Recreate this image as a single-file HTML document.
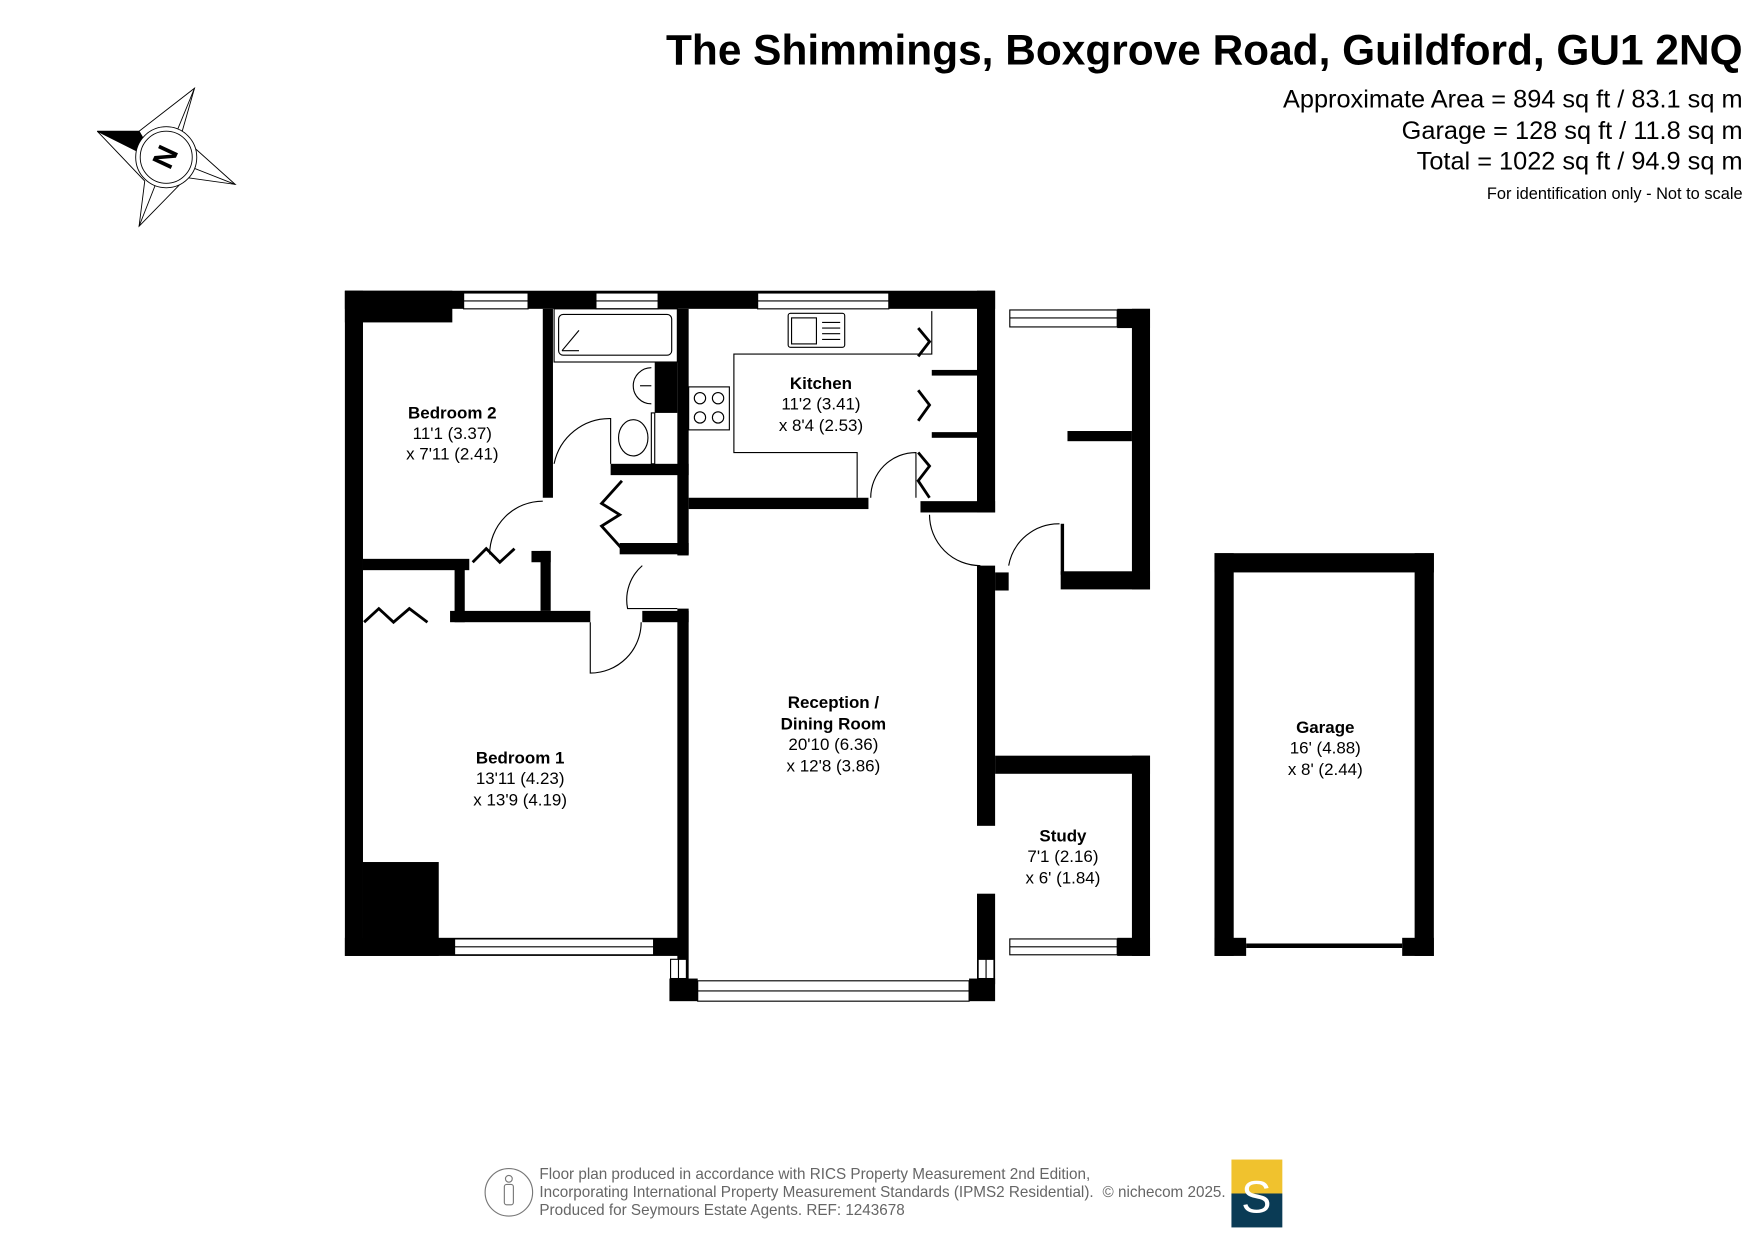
<!DOCTYPE html>
<html><head><meta charset="utf-8"><style>
html,body{margin:0;padding:0;background:#fff;}
svg{display:block;}
text{font-family:"Liberation Sans",Arial,sans-serif;}
</style></head><body>
<svg width="1755" height="1241" viewBox="0 0 1552 1097" preserveAspectRatio="none" xmlns="http://www.w3.org/2000/svg">
<rect width="1552" height="1097" fill="#fff"/>
<!-- header -->
<text x="1541" y="57" text-anchor="end" font-size="37.5" font-weight="bold">The Shimmings, Boxgrove Road, Guildford, GU1 2NQ</text>
<text x="1541" y="95" text-anchor="end" font-size="22.4">Approximate Area = 894 sq ft / 83.1 sq m</text>
<text x="1541" y="123" text-anchor="end" font-size="22.4">Garage = 128 sq ft / 11.8 sq m</text>
<text x="1541" y="150" text-anchor="end" font-size="22.4">Total = 1022 sq ft / 94.9 sq m</text>
<text x="1541" y="176" text-anchor="end" font-size="14.5">For identification only - Not to scale</text>
<!-- compass -->
<g stroke="#000" stroke-width="0.8" fill="none">
<polygon points="86,116 123,116 138,142" fill="#000"/>
<polyline points="123,116 172,78 160,120 208,163 165,157 123,200 128,160 86,116"/>
<line x1="147" y1="139" x2="172" y2="78"/><line x1="147" y1="139" x2="208" y2="163"/><line x1="147" y1="139" x2="123" y2="200"/>
<circle cx="147" cy="139" r="27" fill="#fff"/><circle cx="147" cy="139" r="23"/>
</g>
<text x="147" y="147" font-size="26" font-weight="bold" text-anchor="middle" transform="rotate(-65 147 139)">N</text>

<g fill="#000">
<rect x="305" y="257" width="575" height="16"/>
<rect x="305" y="257" width="95" height="28"/>
<rect x="305" y="257" width="16" height="588"/>
<rect x="305" y="829" width="303" height="16"/>
<rect x="321" y="762" width="67" height="83"/>
<rect x="480" y="273" width="9" height="167"/>
<rect x="321" y="494" width="94" height="10"/>
<rect x="470" y="487" width="17" height="10"/>
<rect x="402" y="500" width="9" height="50"/>
<rect x="398" y="540" width="124" height="10"/>
<rect x="478" y="487" width="9" height="53"/>
<rect x="568" y="540" width="41" height="10"/>
<rect x="599" y="273" width="10" height="218"/>
<rect x="579" y="320" width="20" height="45"/>
<rect x="540" y="410" width="69" height="10"/>
<rect x="548" y="480" width="61" height="10"/>
<rect x="609" y="440" width="159" height="10"/>
<rect x="814" y="443" width="66" height="10"/>
<rect x="824" y="327" width="42" height="5"/><rect x="824" y="382" width="42" height="5"/>
<rect x="599" y="538" width="10" height="332"/>
<rect x="864" y="257" width="16" height="196"/>
<rect x="864" y="500" width="16" height="230"/>
<rect x="864" y="790" width="16" height="80"/>
<rect x="880" y="506" width="12" height="16"/>
<rect x="592" y="865" width="25" height="20"/>
<rect x="857" y="865" width="23" height="20"/>
<rect x="1001" y="273" width="16" height="248"/>
<rect x="988" y="273" width="29" height="17"/>
<rect x="938" y="505" width="79" height="16"/>
<rect x="938" y="463" width="3" height="45"/>
<rect x="944" y="381" width="57" height="9"/>
<rect x="880" y="668" width="137" height="16"/>
<rect x="1001" y="668" width="16" height="177"/>
<rect x="988" y="829" width="29" height="16"/>
<rect x="1074" y="489" width="194" height="17"/>
<rect x="1074" y="489" width="17" height="356"/>
<rect x="1251" y="489" width="17" height="356"/>
<rect x="1074" y="829" width="28" height="16"/>
<rect x="1240" y="829" width="28" height="16"/>
<rect x="1102" y="834" width="138" height="4"/>
</g>
<g fill="#fff" stroke="#000" stroke-width="1">
<rect x="410" y="259" width="57" height="14"/><line x1="410" y1="266" x2="467" y2="266"/>
<rect x="527" y="259" width="55" height="14"/><line x1="527" y1="266" x2="582" y2="266"/>
<rect x="670" y="259" width="116" height="14"/><line x1="670" y1="266" x2="786" y2="266"/>
<rect x="402" y="830" width="176" height="14"/><line x1="402" y1="837" x2="578" y2="837"/>
<rect x="617" y="867" width="240" height="18"/><line x1="617" y1="876" x2="857" y2="876"/>
<rect x="593" y="848" width="14" height="17"/><line x1="600" y1="848" x2="600" y2="865"/>
<rect x="865" y="848" width="14" height="17"/><line x1="872" y1="848" x2="872" y2="865"/>
<rect x="893" y="274" width="95" height="15"/><line x1="893" y1="281" x2="988" y2="281"/>
<rect x="893" y="830" width="95" height="14"/><line x1="893" y1="837" x2="988" y2="837"/>
</g>
<g fill="none" stroke="#000" stroke-width="1">
<rect x="490" y="273" width="109" height="47"/>
<rect x="494" y="278" width="100" height="36" rx="4"/>
<line x1="497" y1="310" x2="512" y2="292"/><line x1="497" y1="310" x2="512" y2="310"/>
<path d="M576 325 a16 16 0 0 0 0 32"/><line x1="566" y1="341" x2="576" y2="341"/>
<ellipse cx="560" cy="387" rx="13" ry="16"/><rect x="576" y="365" width="3" height="45"/>
<rect x="697" y="277" width="50" height="30" rx="2"/><rect x="700" y="281" width="22" height="23"/>
<line x1="727" y1="285" x2="743" y2="285"/><line x1="727" y1="290" x2="743" y2="290"/><line x1="727" y1="295" x2="743" y2="295"/><line x1="727" y1="300" x2="743" y2="300"/>
<rect x="609" y="342" width="36" height="38"/>
<circle cx="619" cy="352" r="5"/><circle cx="635" cy="352" r="5"/><circle cx="619" cy="369" r="5"/><circle cx="635" cy="369" r="5"/>
<polyline points="824,275 824,313 649,313 649,400 758,400 758,440"/>
<path d="M490 410 a50 50 0 0 1 50 -40 L540 410"/>
<path d="M433 490 a47 47 0 0 1 47 -47"/>
<path d="M568 500 a40 40 0 0 0 -13 38 L599 538"/>
<path d="M522 550 L522 595 a45 45 0 0 0 45 -45"/>
<path d="M770 440 a40 40 0 0 1 40 -40 L810 440"/>
<path d="M822 455 a45 45 0 0 0 45 45"/>
<path d="M892 500 a45 45 0 0 1 45 -37"/>
</g>
<g fill="none" stroke="#000" stroke-width="2.5">
<polyline points="322,550 335,538 348,550 362,538 378,550"/>
<polyline points="418,497 430,485 442,497 455,485"/>
<polyline points="550,425 532,445 548,455 532,465 550,485"/>
<polyline points="812,290 822,302 812,315"/><polyline points="812,345 822,358 812,372"/><polyline points="812,400 822,412 812,425 822,440"/>
</g>
<g text-anchor="middle" font-size="15">
<text x="400" y="370" font-weight="bold">Bedroom 2</text><text x="400" y="388">11'1 (3.37)</text><text x="400" y="406">x 7'11 (2.41)</text>
<text x="726" y="344" font-weight="bold">Kitchen</text><text x="726" y="362">11'2 (3.41)</text><text x="726" y="381">x 8'4 (2.53)</text>
<text x="460" y="675" font-weight="bold">Bedroom 1</text><text x="460" y="693">13'11 (4.23)</text><text x="460" y="712">x 13'9 (4.19)</text>
<text x="737" y="626" font-weight="bold">Reception /</text><text x="737" y="645" font-weight="bold">Dining Room</text><text x="737" y="663">20'10 (6.36)</text><text x="737" y="682">x 12'8 (3.86)</text>
<text x="940" y="744" font-weight="bold">Study</text><text x="940" y="762">7'1 (2.16)</text><text x="940" y="781">x 6' (1.84)</text>
<text x="1172" y="648" font-weight="bold">Garage</text><text x="1172" y="666">16' (4.88)</text><text x="1172" y="685">x 8' (2.44)</text>
</g>
<g fill="#666" font-size="13.5">
<text x="477" y="1042">Floor plan produced in accordance with RICS Property Measurement 2nd Edition,</text>
<text x="477" y="1058">Incorporating International Property Measurement Standards (IPMS2 Residential).</text>
<text x="975" y="1058">© nichecom 2025.</text>
<text x="477" y="1074">Produced for Seymours Estate Agents.   REF: 1243678</text>
</g>
<g fill="none" stroke="#777" stroke-width="1">
<ellipse cx="450" cy="1054" rx="21" ry="21"/>
<circle cx="450" cy="1042" r="3"/><rect x="446" y="1047" width="8" height="18" rx="2"/>
</g>
<rect x="1089" y="1025" width="45" height="30" fill="#f0c22e"/>
<rect x="1089" y="1055" width="45" height="30" fill="#0a3b55"/>
<text x="1111" y="1072" text-anchor="middle" font-size="40" fill="#fff" font-family="Liberation Serif,serif">S</text>
</svg>
</body></html>
